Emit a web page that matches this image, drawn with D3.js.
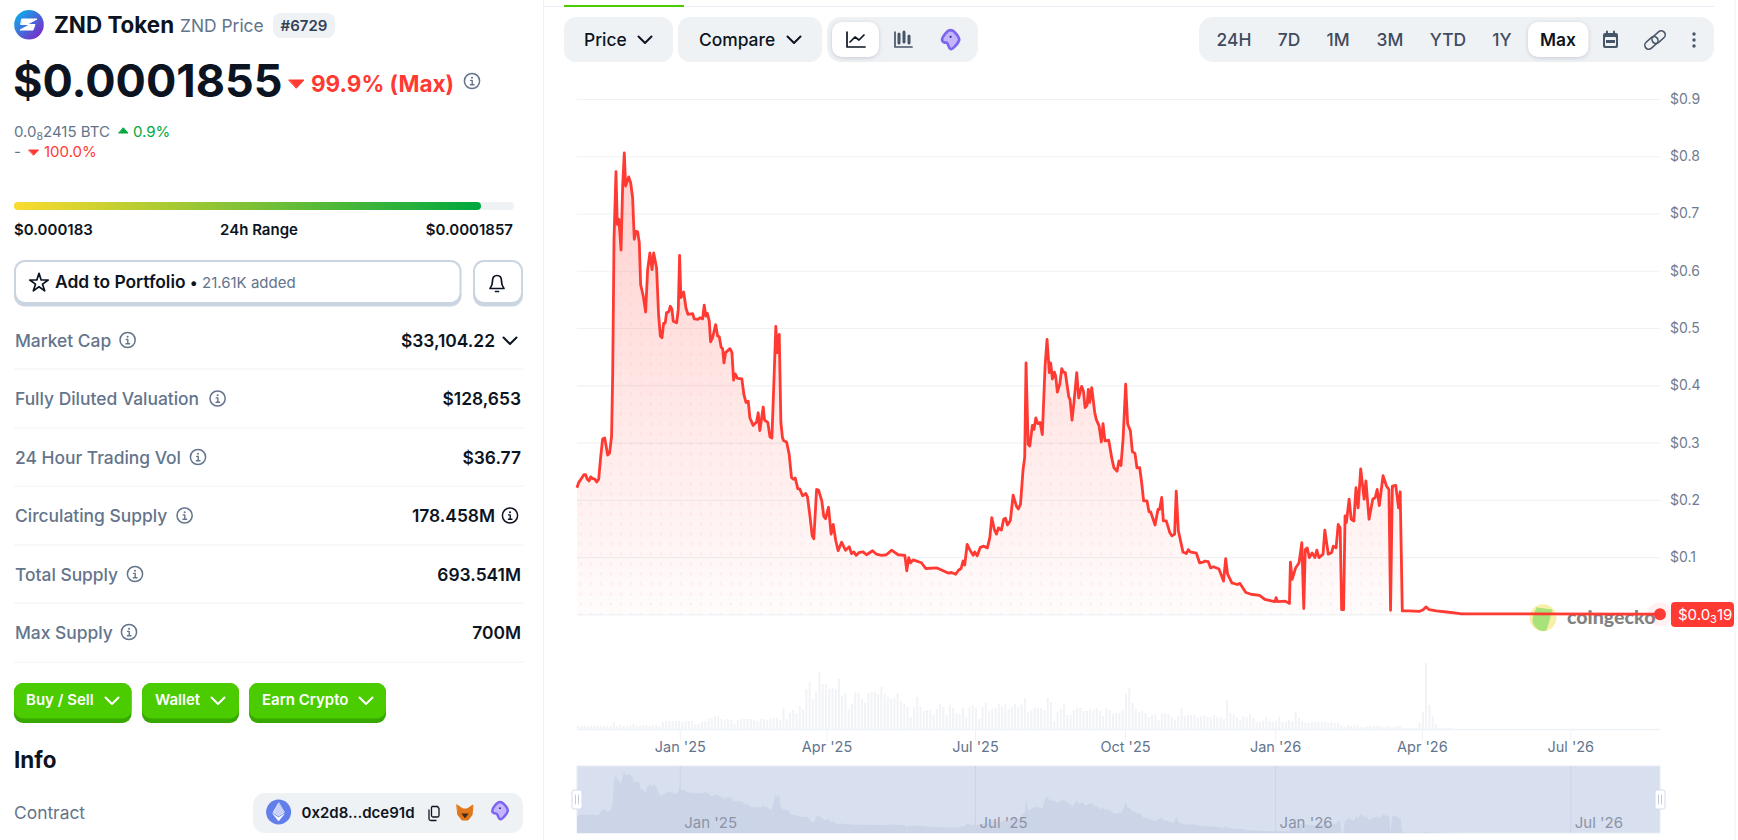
<!DOCTYPE html>
<html>
<head>
<meta charset="utf-8">
<title>ZND Token Price</title>
<script src="https://cdn.jsdelivr.net/npm/d3@7"></script>
<style>
  html, body { margin: 0; padding: 0; background: #fff; overflow: hidden; }
  svg { display: block; font-family: Inter, "Noto Sans", sans-serif; }
</style>
</head>
<body>
<div id="wrapper"></div>
<script>
// price series, days counted from the first point of the chart
const startDate = Date.UTC(2024, 9, 30)
const lastDay = 664

const priceDays = [0,1,3.1,4.3,5.3,6.3,7.4,8.4,9.6,11,12.1,13.3,14.5,15.7,17,18.8,20,21.2,21.9,22.7,23.9,24.7,25.7,27,28,29,29.8,31.7,32.9,34.1,35.1,36.2,37.2,38.2,39,40.6,42.1,43.3,44.7,46,47,48.8,50,51.1,52.1,53.1,54.1,54.9,56.2,57.2,58.2,59,61.1,62.1,62.9,63.7,65.4,66.8,68,70.9,71.9,74.1,75.4,77,78,79,79.9,81.1,81.9,83.1,85,86.2,87.2,88.4,89.3,90.1,91.1,93.8,95,96,97,98.4,101.1,102.3,103.6,105,106,108,110.1,111.1,112.1,114.2,115,117,118.3,119.5,120.7,121.9,122.8,124,125,126,126.8,128.5,130.1,131.5,132.6,133.8,135.4,136.6,138.3,140.3,141.3,142.8,144.2,145.2,146.9,148.1,150.1,151.3,152.4,154.2,155.8,157.1,158.7,160.1,162.2,164.6,166.9,168.3,169.7,171.2,173,
  175.4,177.5,181.2,183.6,186.7,189.7,192.8,196.9,201,202.2,203.4,204.5,206.1,211.2,213.8,220.8,224.5,227.5,229.6,232.2,233.9,235.5,236.7,237.7,239.2,240.8,242.9,243.9,245.3,247.3,249.4,251.6,253.1,254.3,255.9,257.2,258.4,260.2,261.6,262.7,263.9,265.7,267.4,269.4,270.6,271.9,273.5,274.5,275.3,276.6,277.6,279.2,280.2,281.3,282.5,283.9,285.3,287,288.2,289.6,290.4,291.5,292.7,293.5,294.5,296,297.2,298.2,299.4,301.5,302.3,303.5,304.7,306.4,307.6,309.4,310.5,311.5,312.7,313.5,314.3,315.6,317.4,318.4,320.1,321.5,322.5,323.7,326,328,329.2,331.1,332.3,333.5,334.8,336.4,337.6,339.3,340.5,342.1,343.3,345,346.2,347.4,349.5,350.7,351.7,354.4,356.2,357.2,358.5,359.5,361.3,363.4,364.8,366.4,367.4,368.7,371.5,373.6,374.8,376,379.7,381.7,383.8,385,387,388.5,390.3,393.6,
  396.4,397.7,398.9,401.5,404.8,406.5,410.1,413.2,418.5,421.7,428,428.6,429.6,434.3,436.8,437.4,438.5,440.6,442.7,444.4,445.6,446.5,447.7,449,450.7,452.4,453.6,454.9,457.4,458.5,460.6,462.7,463.7,465.4,466.7,467.9,468.8,470,470.9,471.7,473.4,474.7,476.3,477.6,478.9,480.5,482.6,483.7,485.6,487.9,489.4,490.6,491.9,494.2,496.3,497.8,498.8,499.9,502,503.7,504.7,506,510,516.3,518.8,520.5,522.6,526.8,533.1,541.5,664]

const priceValues = [.221,.23,.239,.244,.244,.236,.233,.24,.237,.236,.231,.236,.274,.306,.308,.278,.282,.311,.422,.655,.773,.681,.69,.636,.748,.806,.748,.764,.754,.728,.655,.669,.668,.649,.576,.556,.528,.602,.631,.602,.631,.605,.524,.486,.483,.508,.509,.527,.528,.538,.533,.512,.509,.533,.627,.553,.563,.535,.524,.525,.516,.515,.518,.516,.54,.521,.526,.512,.476,.483,.506,.486,.485,.466,.464,.439,.457,.464,.457,.409,.42,.412,.411,.384,.37,.372,.343,.33,.336,.352,.321,.362,.339,.335,.31,.308,.404,.503,.457,.489,.335,.308,.303,.301,.279,.239,.236,.238,.219,.219,.207,.211,.205,.172,.137,.132,.218,.217,.198,.171,.167,.187,.14,.157,.128,.111,.126,.112,.118,.106,.109,.103,.108,
  .109,.104,.111,.105,.103,.104,.112,.104,.103,.076,.099,.09,.095,.09,.08,.081,.076,.072,.073,.07,.077,.08,.093,.086,.122,.113,.103,.109,.102,.117,.119,.116,.134,.169,.148,.14,.151,.147,.166,.168,.156,.164,.208,.189,.184,.192,.253,.274,.439,.297,.294,.33,.323,.343,.333,.335,.314,.434,.48,.422,.439,.411,.423,.416,.388,.402,.429,.423,.422,.38,.375,.339,.37,.422,.378,.398,.39,.361,.365,.393,.37,.396,.353,.34,.329,.301,.333,.303,.304,.271,.256,.25,.268,.26,.306,.402,.333,.32,.284,.281,.256,.256,.23,.198,.198,.179,.179,.156,.183,.183,.204,.163,.163,.143,.137,.14,.215,.146,.109,.106,.113,.109,.107,.09,.091,.093,.092,.081,.083,.079,
  .058,.097,.07,.055,.052,.054,.038,.035,.033,.026,.022,.029,.022,.023,.019,.091,.061,.081,.09,.125,.01,.113,.116,.099,.107,.099,.112,.099,.105,.147,.105,.108,.119,.116,.157,.151,.008,.008,.172,.16,.201,.166,.163,.221,.186,.254,.201,.233,.166,.201,.204,.218,.19,.242,.224,.218,.007,.224,.225,.186,.214,.006,.006,.005,.008,.013,.008,.006,.004,.001,.00019]

// volume, one bar for every 2 days
const volumeValues = [3,3,3,3,3,3,3,3,3,3,3,7,3,4,3,3,4,5,3,3,4,4,3,4,4,3,7,8,8,8,8,8,7,8,8,8,5,5,7,8,10,11,13,13,10,9,10,9,5,9,10,10,10,10,9,8,
  10,10,9,10,11,11,9,21,10,16,19,16,23,20,40,47,30,37,57,45,45,40,41,40,50,33,36,20,25,37,36,30,26,36,37,37,35,42,35,32,30,31,36,28,25,22,12,22,32,22,18,19,19,14,20,25,22,14,24,21,16,15,21,12,22,24,21,10,22,26,18,20,21,25,23,25,20,22,25,22,
  25,31,17,19,22,21,21,19,31,27,8,17,20,25,14,14,19,21,21,18,18,20,19,21,18,13,21,19,15,16,16,19,35,41,26,20,17,18,16,12,14,15,9,15,16,15,12,9,13,21,13,14,14,14,11,13,14,12,12,14,12,12,10,29,16,15,12,9,13,12,15,11,7,7,8,12,8,7,8,12,
  7,7,9,8,17,11,8,6,6,7,7,7,7,7,6,7,6,6,4,2,4,3,4,3,2,2,3,3,3,3,3,2,3,2,2,3,3,1,1,1,1,1,6,17,66,24,13,5,1,1,1,1]

const yTicks = [0,.1,.2,.3,.4,.5,.6,.7,.8,.9]
const xTickDates = ["2025-01-01","2025-04-01","2025-07-01","2025-10-01","2026-01-01","2026-04-01","2026-07-01"]
const navTickDates = ["2025-01-01","2025-07-01","2026-01-01","2026-07-01"]
const rangeLabels = ["24H","7D","1M","3M","YTD","1Y","Max"]
const rangeCenters = [1234,1289,1338,1390,1448,1502,1558]

const statRows = [
  {label: "Market Cap", value: "$33,104.22", icon: 127.6, base: 346.5, right: 495},
  {label: "Fully Diluted Valuation", value: "$128,653", icon: 217.6, base: 405, right: 521},
  {label: "24 Hour Trading Vol", value: "$36.77", icon: 198, base: 463.5, right: 521},
  {label: "Circulating Supply", value: "178.458M", icon: 184.6, base: 522, right: 495},
  {label: "Total Supply", value: "693.541M", icon: 135, base: 580.5, right: 521},
  {label: "Max Supply", value: "700M", icon: 129, base: 638.5, right: 521},
]
const rowLines = [369,428,486,545,603,662]

const red = "#ff3a33", green = "#00a83e", dark = "#0d1421", slate = "#64748b", pale = "#eff2f5"

const dimensions = {width: 1738, height: 840, left: 577, right: 1660}

const toDate = d => new Date(startDate + d * 864e5)
const utc = s => new Date(s + "T00:00:00Z")

const svg = d3.select("#wrapper").append("svg")
  .attr("width", dimensions.width)
  .attr("height", dimensions.height)

const defs = svg.append("defs")

// --- scales
const xScale = d3.scaleUtc()
  .domain([toDate(0), toDate(lastDay)])
  .range([dimensions.left, dimensions.right])
const yScale = d3.scaleLinear().domain([0, .9]).range([614.3, 99])
const volScale = d3.scaleLinear().domain([0, 67]).range([729, 662])
const navScale = d3.scaleLinear().domain([0, 1]).range([833, 756])

const points = priceDays.map((d, i) => ({date: toDate(d), value: priceValues[i]}))

// --- small helpers for the page around the chart
function label(x, y, text, o = {}) {
  return svg.append("text").attr("x", x).attr("y", y).text(text)
    .attr("font-size", o.size || 17.4)
    .attr("font-weight", o.weight || 400)
    .attr("fill", o.fill || dark)
    .attr("text-anchor", o.anchor || "start")
}
function box(x, y, w, h, r, fill) {
  return svg.append("rect").attr("x", x).attr("y", y).attr("width", w).attr("height", h).attr("rx", r).attr("fill", fill)
}
function line(d, stroke, width = 1.8, fill = "none") {
  return svg.append("path").attr("d", d).attr("stroke", stroke).attr("stroke-width", width)
    .attr("fill", fill).attr("stroke-linecap", "round").attr("stroke-linejoin", "round")
}
function chevron(x, y, color = dark) {
  line(`M${x - 6.5} ${y - 3.5}L${x} ${y + 3}L${x + 6.5} ${y - 3.5}`, color, 2)
}
function triangle(x, y, w, h, color, up) {
  const a = up ? y + h : y, b = up ? y : y + h
  line(`M${x} ${a}L${x + w} ${a}L${x + w / 2} ${b}Z`, color, 1, color)
}
function info(x, y, color = slate) {
  svg.append("circle").attr("cx", x).attr("cy", y).attr("r", 7.6).attr("fill", "none").attr("stroke", color).attr("stroke-width", 1.5)
  svg.append("circle").attr("cx", x).attr("cy", y - 3.2).attr("r", 1).attr("fill", color)
  line(`M${x - 1.4} ${y - .6}H${x + .2}V${y + 3.6}M${x - 1.6} ${y + 3.7}H${x + 2}`, color, 1.4)
}
function drop(x, y, s) {
  // purple bird logo
  line(`M${x} ${y - 11 * s}C${x + 4 * s} ${y - 11 * s} ${x + 10 * s} ${y - 3 * s} ${x + 9.5 * s} ${y}C${x + 9 * s} ${y + 3 * s} ${x + 2 * s} ${y + 11 * s} ${x} ${y + 10 * s}C${x - 3 * s} ${y + 9 * s} ${x - 2 * s} ${y + 3 * s} ${x - 5 * s} ${y + 3 * s}C${x - 7 * s} ${y + 3 * s} ${x - 9.5 * s} ${y + 2 * s} ${x - 9.5 * s} ${y}C${x - 9.5 * s} ${y - 3 * s} ${x - 4 * s} ${y - 11 * s} ${x} ${y - 11 * s}Z`, "#7c66f0", 1, "#c4b5fd")
    .attr("stroke-width", 3 * s)
  svg.append("circle").attr("cx", x).attr("cy", y - 3.5 * s).attr("r", 1.2 * s).attr("fill", "#312e81")
}

// --- left panel
const logoGrad = defs.append("linearGradient").attr("id", "logoGrad").attr("x1", 0).attr("y1", 0).attr("x2", 1).attr("y2", 1)
logoGrad.append("stop").attr("offset", "15%").attr("stop-color", "#14a5e8")
logoGrad.append("stop").attr("offset", "90%").attr("stop-color", "#7d28c9")
svg.append("circle").attr("cx", 29).attr("cy", 24.7).attr("r", 14.8).attr("fill", "url(#logoGrad)")
line("M22 19H37L27 24.5H35L33 30H20L30 24.5H21Z", "#fff", 1, "#fff")

label(54, 33, "ZND Token", {size: 22.4, weight: 700})
label(180, 32, "ZND Price", {size: 17.4, fill: slate})
box(273, 13, 62, 25, 8, pale)
label(304, 31, "#6729", {size: 15, weight: 600, fill: "#334155", anchor: "middle"})

label(13, 97, "$0.0001855", {size: 45, weight: 700})
triangle(289, 80, 15, 8, red)
label(311, 92, "99.9% (Max)", {size: 22.5, weight: 700, fill: red})
info(472, 81)

const btc = label(14, 137, "0.0", {size: 15, fill: slate})
btc.append("tspan").text("8").attr("font-size", 10.5).attr("dy", 3)
btc.append("tspan").text("2415 BTC").attr("dy", -3)
triangle(119, 128, 9, 5, green, true)
label(133, 137, "0.9%", {size: 15, fill: green})
label(14, 157, "-", {size: 15, fill: slate})
triangle(29, 150, 9.5, 5, red)
label(44, 157, "100.0%", {size: 15, fill: red})

const rangeGrad = defs.append("linearGradient").attr("id", "rangeGrad")
rangeGrad.append("stop").attr("offset", "0%").attr("stop-color", "#fbdb2e")
rangeGrad.append("stop").attr("offset", "100%").attr("stop-color", green)
box(14, 202, 500, 8, 4, pale)
box(14, 202, 467, 8, 4, "url(#rangeGrad)")
label(14, 235, "$0.000183", {size: 15, weight: 600})
label(259, 235, "24h Range", {size: 15, weight: 600, anchor: "middle"})
label(513, 235, "$0.0001857", {size: 15, weight: 600, anchor: "end"})

box(14, 260, 447.5, 46.5, 11, "#cbd5e1")
box(16, 262, 443.5, 40, 9, "#fff")
box(473, 260, 50, 46.5, 11, "#cbd5e1")
box(475, 262, 46, 40, 9, "#fff")
const star = d3.symbol().type(d3.symbolStar).size(105)()
line(star, dark, 1.7).attr("transform", "translate(39,283)")
label(55, 288, "Add to Portfolio", {size: 17.4, weight: 600})
label(189.5, 288, "•", {size: 15, fill: dark})
label(202, 288, "21.61K added", {size: 15, fill: slate})
line("M490 288.5H504C502 286 501.5 284 501.5 281C501.5 278 500 275.5 497 275.5C494 275.5 492.5 278 492.5 281C492.5 284 492 286 490 288.5ZM495.5 291.5H498.5", dark, 1.7)

statRows.forEach(r => {
  label(15, r.base, r.label, {weight: 500, fill: slate})
  info(r.icon, r.base - 6.5)
  label(r.right, r.base, r.value, {weight: 600, anchor: "end"})
})
chevron(510, 341)
info(510, 515.5, dark)
rowLines.forEach(y => svg.append("line").attr("x1", 14).attr("x2", 523).attr("y1", y).attr("y2", y).attr("stroke", pale))

const buyButtons = [
  {text: "Buy / Sell", x: 14, w: 117.5, tx: 26, cx: 112},
  {text: "Wallet", x: 142, w: 97, tx: 155, cx: 218},
  {text: "Earn Crypto", x: 249, w: 137, tx: 262, cx: 366},
]
buyButtons.forEach(b => {
  box(b.x, 683, b.w, 40, 9, "#36a800")
  box(b.x, 683, b.w, 35.5, 9, "#4bcc00")
  label(b.tx, 705, b.text, {size: 15, weight: 600, fill: "#fff"})
  chevron(b.cx, 701, "#fff")
})

label(14, 768, "Info", {size: 22.4, weight: 700})
label(14, 818.5, "Contract", {fill: slate})
box(253, 793, 270, 40, 12, pale)
svg.append("circle").attr("cx", 278.6).attr("cy", 812).attr("r", 12.5).attr("fill", "#627eea")
line("M278.6 803L273 812.5L278.6 816L284.2 812.5Z", "#fff", .6, "#c9d3f8")
line("M273 814L278.6 821L284.2 814L278.6 817.5Z", "#fff", .6, "#fff")
label(301.5, 818, "0x2d8...dce91d", {size: 15, weight: 600})
line("M429 810V819C429 820 429.8 820.5 431 820.5H436M432 806.5H437.5L439 808.5V815.5C439 816.5 438.5 817 437.5 817H433C432 817 431.5 816.5 431.5 815.5V807.5Z", dark, 1.3)
line("M457 805L463 809H467L473 805L472 815L468 820H462L458 815Z", "#e2761b", 1, "#e2761b")
line("M462 814L465 818L468 814Z", "#3b2a20", .6, "#3b2a20")
drop(500, 811, .82)

// --- toolbar above the chart
svg.append("line").attr("x1", 543.5).attr("x2", 543.5).attr("y1", 0).attr("y2", 840).attr("stroke", pale)
svg.append("line").attr("x1", 1735).attr("x2", 1735).attr("y1", 0).attr("y2", 840).attr("stroke", pale)
svg.append("line").attr("x1", 543).attr("x2", 1714).attr("y1", 6.5).attr("y2", 6.5).attr("stroke", "#e8eef4")
box(564, 5, 120, 2, 0, "#4bcc00")

box(564, 17, 109, 45, 12, pale)
label(584, 46, "Price", {weight: 500})
chevron(645, 40)
box(678, 17, 144, 45, 12, pale)
label(699, 46, "Compare", {weight: 500})
chevron(794, 40)
box(827, 17, 151, 45, 14, pale)
box(832, 22, 47, 35, 10, "#fff").style("filter", "drop-shadow(0 1px 2px rgba(15,23,42,.18))")
line("M847 32V47H865M850 42L855 37L859 40L864 35", dark, 1.7)
line("M895 32V47H912", "#475569", 1.7)
line("M899 34V43M904 32V42M909 36V43", "#475569", 3)
drop(950.6, 40, .9)

box(1199, 17, 515, 45, 14, pale)
box(1528, 22, 60.5, 35, 10, "#fff").style("filter", "drop-shadow(0 1px 2px rgba(15,23,42,.18))")
rangeLabels.forEach((t, i) => {
  label(rangeCenters[i], 46, t, {weight: t === "Max" ? 600 : 500, fill: t === "Max" ? dark : "#3f4b5e", anchor: "middle"})
})
box(1603, 33, 15, 15, 2, "#475569")
box(1606, 30.5, 2, 4, 1, "#475569")
box(1613, 30.5, 2, 4, 1, "#475569")
box(1605, 37, 11, 9, 1, pale)
box(1606, 40, 9, 3, 0, "#475569")
;[-3.6, 3.6].forEach(o => {
  svg.append("rect").attr("x", -7.5).attr("y", -4).attr("width", 15).attr("height", 8).attr("rx", 4)
    .attr("fill", "none").attr("stroke", "#475569").attr("stroke-width", 1.6)
    .attr("transform", `translate(${1655 + o},${40 - o * .8}) rotate(-42)`)
})
svg.selectAll(null).data([34, 40, 46]).join("circle").attr("cx", 1694).attr("cy", d => d).attr("r", 1.7).attr("fill", "#475569")

// --- y axis and grid
const yAxis = d3.axisRight(yScale)
  .tickValues(yTicks)
  .tickSize(-(dimensions.right - dimensions.left))
  .tickPadding(10)
  .tickFormat(d => d === 0 ? "" : `$${d}`)
const yAxisG = svg.append("g").attr("transform", `translate(${dimensions.right},0)`).call(yAxis)
yAxisG.select(".domain").remove()
yAxisG.selectAll("line").attr("stroke", pale).attr("stroke-width", 1.2)
yAxisG.selectAll("text").attr("font-size", 14).attr("font-family", "Inter").attr("fill", "#707b8f")

// --- price area and line
const areaGrad = defs.append("linearGradient").attr("id", "areaGrad")
  .attr("gradientUnits", "userSpaceOnUse").attr("x1", 0).attr("x2", 0).attr("y1", 139).attr("y2", 615)
areaGrad.append("stop").attr("offset", "0%").attr("stop-color", red).attr("stop-opacity", .25)
areaGrad.append("stop").attr("offset", "100%").attr("stop-color", red).attr("stop-opacity", .015)
const dots = defs.append("pattern").attr("id", "dots").attr("patternUnits", "userSpaceOnUse")
  .attr("width", 10).attr("height", 10).attr("x", -4).attr("y", -1)
dots.append("circle").attr("cx", 5).attr("cy", 5).attr("r", 1.4).attr("fill", red).attr("fill-opacity", .06)

const area = d3.area().x(d => xScale(d.date)).y0(yScale(0)).y1(d => yScale(d.value))
svg.append("path").datum(points).attr("d", area).attr("fill", "url(#areaGrad)")
svg.append("path").datum(points).attr("d", area).attr("fill", "url(#dots)")

// watermark sits under the line
svg.append("circle").attr("cx", 1543).attr("cy", 617.7).attr("r", 13.5).attr("fill", "#f8f0a8")
line("M1537 608L1552 610C1550 616 1549 622 1546 630C1541 632 1534 628 1533 621C1533 616 1535 612 1537 608Z", "#a8e27a", 1, "#a8e27a")
label(1567, 624, "coingecko", {size: 19.6, weight: 900, fill: "#828282"}).attr("font-family", "Lato")

svg.append("path").datum(points)
  .attr("d", d3.line().x(d => xScale(d.date)).y(d => yScale(d.value)))
  .attr("fill", "none").attr("stroke", red).attr("stroke-width", 2.8).attr("stroke-linejoin", "round")

const lastPoint = points[points.length - 1]
svg.append("circle").attr("cx", xScale(lastPoint.date)).attr("cy", yScale(lastPoint.value)).attr("r", 12).attr("fill", red).attr("fill-opacity", .07)
svg.append("circle").attr("cx", xScale(lastPoint.date)).attr("cy", yScale(lastPoint.value)).attr("r", 6).attr("fill", red)
box(1671, 602, 63, 25, 4, red)
const lastLabel = label(1678, 620, "$0.0", {size: 15, fill: "#fff"})
lastLabel.append("tspan").text("3").attr("font-size", 11).attr("dy", 3)
lastLabel.append("tspan").text("19").attr("dy", -3)

// --- volume bars and date axis
svg.append("g").selectAll("rect").data(volumeValues).join("rect")
  .attr("x", (d, i) => xScale(toDate(i * 2)))
  .attr("width", 2)
  .attr("y", d => volScale(d))
  .attr("height", d => volScale(0) - volScale(d))
  .attr("fill", "#f1f3f7")

const xAxis = d3.axisBottom(xScale)
  .tickValues(xTickDates.map(utc))
  .tickSize(12).tickSizeOuter(0).tickPadding(1)
  .tickFormat(d3.utcFormat("%b '%y"))
const xAxisG = svg.append("g").attr("transform", "translate(0,729)").call(xAxis)
xAxisG.select(".domain").attr("stroke", pale).attr("stroke-width", 1.5)
xAxisG.selectAll("line").attr("stroke", pale)
xAxisG.selectAll("text").attr("font-size", 14.5).attr("font-family", "Inter").attr("fill", slate)

// --- navigator
svg.append("rect").attr("x", dimensions.left).attr("y", 766)
  .attr("width", dimensions.right - dimensions.left).attr("height", 67)
  .attr("fill", "#d8dfee").attr("stroke", "#e6ebf4")
svg.append("path").datum(points)
  .attr("d", d3.area().x(d => xScale(d.date)).y0(navScale(0)).y1(d => navScale(d.value)))
  .attr("fill", "#ccd5e7")
const navAxis = d3.axisBottom(xScale)
  .tickValues(navTickDates.map(utc))
  .tickSize(-67).tickSizeOuter(0)
  .tickFormat(d3.utcFormat("%b '%y"))
const navAxisG = svg.append("g").attr("transform", "translate(0,833)").call(navAxis)
navAxisG.select(".domain").remove()
navAxisG.selectAll("line").attr("stroke", "#ccd4e6")
navAxisG.selectAll("text").attr("font-size", 15).attr("font-family", "Inter").attr("fill", "#8b93a8")
  .attr("text-anchor", "start").attr("x", 4).attr("y", -5.5).attr("dy", 0)
;[dimensions.left, dimensions.right].forEach(x => {
  svg.append("rect").attr("x", x - 5).attr("y", 790).attr("width", 10).attr("height", 19).attr("rx", 2)
    .attr("fill", "#fff").attr("stroke", "#d5dceb")
  line(`M${x - 1.5} 795V804M${x + 1.5} 795V804`, "#c3cbdc", 1)
})
</script>
</body>
</html>
